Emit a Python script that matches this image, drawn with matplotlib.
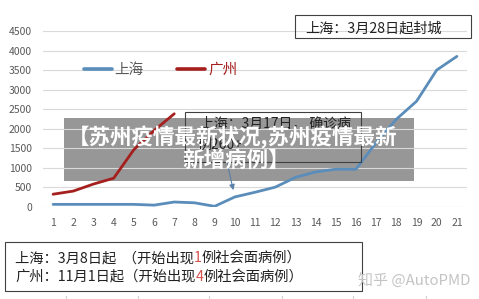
#!/usr/bin/env python3
"""Shanghai vs Guangzhou case curves with annotation boxes."""

import matplotlib

matplotlib.use("Agg")
import matplotlib.pyplot as plt
from matplotlib.patches import Rectangle

plt.rcParams["font.family"] = ["Noto Sans CJK SC", "DejaVu Sans"]

DAYS = list(range(1, 22))
SHANGHAI = [60, 60, 60, 60, 60, 40, 120, 100, 10, 250, 370, 500, 750, 890,
            960, 960, 1640, 2240, 2700, 3500, 3850]
GUANGZHOU = [320, 400, 580, 730, 1460, 1950, 2380]
Y_TICKS = list(range(0, 5000, 500))
SERIES_NAMES = ["上海", "广州"]

BLUE = "#5b8dbb"
RED = "#a51f1f"
W, H = 479, 299


def frac(x0, y0, x1, y1):
    # pixel box (top-left origin) -> figure fraction [left, bottom, width, height]
    return [x0 / W, 1 - y1 / H, (x1 - x0) / W, (y1 - y0) / H]


def rich_line(ax, x, y, parts, renderer, size):
    for text, color in parts:
        t = ax.text(x, y, text, color=color, fontsize=size, va="center", ha="left")
        x += t.get_window_extent(renderer).width


fig = plt.figure(figsize=(W / 100, H / 100), dpi=100)
fig.patch.set_facecolor("white")

# background layer: the grey banner sits under the chart lines
bg = fig.add_axes([0, 0, 1, 1], zorder=0)
bg.set_xlim(0, W)
bg.set_ylim(H, 0)
bg.axis("off")
bg.add_patch(Rectangle((64, 118), 350, 63, facecolor="#979797", edgecolor="none"))

ax = fig.add_axes(frac(43, 31, 467, 206.7), zorder=1)
ax.patch.set_visible(False)
ax.plot(DAYS, SHANGHAI, color=BLUE, linewidth=2.0, label=SERIES_NAMES[0], solid_capstyle="round")
ax.plot(DAYS[: len(GUANGZHOU)], GUANGZHOU, color=RED, linewidth=2.0, label=SERIES_NAMES[1],
        solid_capstyle="round")
ax.set_xlim(0.5, 21.5)
ax.set_ylim(0, 4500)
ax.set_xticks(DAYS)
ax.set_yticks(Y_TICKS)
ax.tick_params(axis="both", length=0, labelsize=7.5, colors="#595959")
ax.tick_params(axis="y", pad=8)
ax.tick_params(axis="x", pad=8)
ax.grid(axis="y", color="#d9d9d9", linewidth=0.8)
ax.set_axisbelow(True)
for side in ["top", "right", "left", "bottom"]:
    ax.spines[side].set_visible(False)

leg = ax.legend(loc="center left", bbox_to_anchor=(84 / W, 1 - 70 / H), bbox_transform=fig.transFigure,
                ncol=2, frameon=False, fontsize=10.5, handlelength=1.9, handletextpad=0.2,
                columnspacing=2.3, borderaxespad=0, borderpad=0)
leg.get_texts()[0].set_color("#595959")
leg.get_texts()[1].set_color(RED)
for line in leg.get_lines():
    line.set_linewidth(2.6)

# overlay in pixel coordinates for boxes and text
ov = fig.add_axes([0, 0, 1, 1], zorder=2)
ov.set_xlim(0, W)
ov.set_ylim(H, 0)
ov.axis("off")
renderer = fig.canvas.get_renderer()

box_kw = dict(fill=False, edgecolor="#404040", linewidth=0.8)
ov.add_patch(Rectangle((295, 15), 176, 23, **box_kw))
ov.text(305, 29, "上海：3月28日起封城", fontsize=10.2, color="#222222", va="center", ha="left")

ov.add_patch(Rectangle((185, 111.5), 176, 50, **box_kw))
ov.text(200, 123, "上海：3月17日， 确诊病", fontsize=10, color="#222222", va="center", ha="left")
ov.text(198, 145, "例260+", fontsize=10, color="#222222", va="center", ha="left")

ax.annotate("", xy=(DAYS[9], SHANGHAI[9]), xycoords="data", xytext=(227, 162), textcoords=ov.transData,
            arrowprops=dict(arrowstyle="-|>", color="#5a7fa8", lw=0.8, shrinkA=0, shrinkB=5,
                            mutation_scale=8))

# banner title
ov.text(68, 137, "【苏州疫情最新状况,苏州疫情最新", fontsize=15.5, fontweight="bold",
        color="white", ha="left", va="center", zorder=5)
ov.text(236, 160, "新增病例】", fontsize=15.5, fontweight="bold", color="white",
        ha="center", va="center", zorder=5)

ov.add_patch(Rectangle((5, 242), 357, 49, **box_kw))
rich_line(ov, 15, 258, [("上海：3月8日起  （开始出现", "#222222"), ("1", "#d9534f"),
                        ("例社会面病例）", "#222222")], renderer, 10.3)
rich_line(ov, 15, 277, [("广州：11月1日起（开始出现", "#222222"), ("4", "#d9534f"),
                        ("例社会面病例）", "#222222")], renderer, 10.3)

ov.text(358, 280, "知乎 @AutoPMD", fontsize=10.8, color="#c4c4c4", va="center", ha="left")

for xv in [66, 138, 209, 282, 353, 426]:
    ov.plot([xv, xv], [296, 299], color="#d0d0d0", linewidth=0.8)

fig.savefig("out.png", dpi=100)
